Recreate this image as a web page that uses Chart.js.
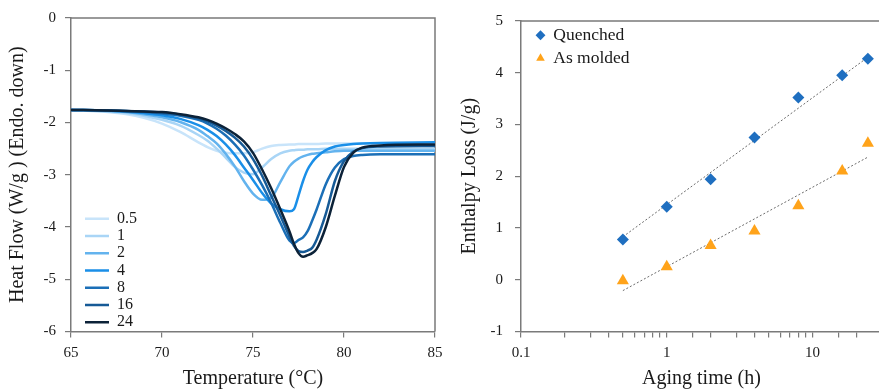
<!DOCTYPE html>
<html>
<head>
<meta charset="utf-8">
<script src="https://cdn.jsdelivr.net/npm/chart.js@4.4.1/dist/chart.umd.min.js"></script>
<style>
html, body { margin: 0; padding: 0; background: #fff; overflow: hidden; }
#wrap { position: relative; width: 879px; height: 389px; overflow: hidden; }
#dscChart { position: absolute; left: 0; top: 0; }
#lossChart { position: absolute; left: 440px; top: 0; }
</style>
</head>
<body>
<div id="wrap">
  <canvas id="dscChart" width="450" height="389"></canvas>
  <canvas id="lossChart" width="449" height="389"></canvas>
</div>
<script>
// left panel: DSC heat flow curves, one per aging time (h)
const temperature = [65, 67, 68, 69, 70, 71, 72, 72.5, 73, 73.5, 74, 74.5, 75, 75.5, 76, 76.5, 77, 77.25, 77.5, 77.75, 78, 78.25, 78.5, 79, 79.5, 80, 80.5, 81, 82, 85];
const agingLabels = ['0.5', '1', '2', '4', '8', '16', '24'];
const hf05 = [-1.76, -1.80, -1.84, -1.91, -2.02, -2.18, -2.38, -2.47, -2.54, -2.58, -2.59, -2.59, -2.57, -2.50, -2.45, -2.43, -2.42, -2.42, -2.41, -2.41, -2.41, -2.41, -2.41, -2.40, -2.40, -2.40, -2.40, -2.40, -2.40, -2.40];
const hf1 = [-1.76, -1.79, -1.82, -1.87, -1.95, -2.06, -2.24, -2.35, -2.50, -2.67, -2.85, -2.96, -2.99, -2.86, -2.70, -2.59, -2.54, -2.53, -2.52, -2.52, -2.51, -2.51, -2.51, -2.50, -2.50, -2.50, -2.50, -2.50, -2.50, -2.50];
const hf2 = [-1.76, -1.78, -1.80, -1.84, -1.90, -1.99, -2.14, -2.26, -2.40, -2.60, -2.84, -3.12, -3.36, -3.48, -3.44, -3.14, -2.84, -2.75, -2.69, -2.65, -2.62, -2.60, -2.59, -2.57, -2.55, -2.54, -2.54, -2.54, -2.54, -2.54];
const hf4 = [-1.76, -1.77, -1.79, -1.82, -1.86, -1.93, -2.05, -2.14, -2.26, -2.42, -2.62, -2.86, -3.10, -3.35, -3.55, -3.66, -3.70, -3.66, -3.40, -3.12, -2.90, -2.76, -2.66, -2.53, -2.46, -2.43, -2.41, -2.40, -2.39, -2.38];
const hf8 = [-1.76, -1.77, -1.78, -1.80, -1.83, -1.87, -1.95, -2.02, -2.12, -2.25, -2.42, -2.63, -2.90, -3.20, -3.54, -3.92, -4.26, -4.31, -4.25, -4.20, -4.08, -3.88, -3.66, -3.18, -2.86, -2.70, -2.64, -2.62, -2.61, -2.61];
const hf16 = [-1.76, -1.77, -1.78, -1.79, -1.81, -1.85, -1.92, -1.98, -2.06, -2.16, -2.29, -2.46, -2.70, -3.02, -3.40, -3.78, -4.18, -4.36, -4.46, -4.48, -4.45, -4.40, -4.24, -3.75, -3.12, -2.74, -2.56, -2.49, -2.46, -2.45];
const hf24 = [-1.76, -1.77, -1.78, -1.79, -1.80, -1.84, -1.90, -1.95, -2.02, -2.11, -2.22, -2.36, -2.58, -2.90, -3.26, -3.66, -4.08, -4.32, -4.50, -4.57, -4.54, -4.50, -4.42, -4.00, -3.40, -2.85, -2.58, -2.48, -2.44, -2.42];
const curveColors = ['#c8e4fa', '#a9d5f6', '#63b3ee', '#1a8fe8', '#1b6fb7', '#165a96', '#0c2238'];

// right panel: enthalpy loss vs aging time
const agingTime = [0.5, 1, 2, 4, 8, 16, 24];
const quenched = [0.78, 1.41, 1.94, 2.75, 3.52, 3.95, 4.27];
const asMolded = [-0.02, 0.25, 0.66, 0.94, 1.43, 2.10, 2.64];
const trendTime = [0.5, 24];
const quenchedTrend = [0.83, 4.30];
const moldedTrend = [-0.21, 2.37];

const axisColor = '#7a7a7a';
const textColor = '#1a1a1a';
Chart.defaults.font.family = '"Liberation Serif", "Times New Roman", serif';
Chart.defaults.color = textColor;
Chart.defaults.animation = false;

// top and right edges of the plot box
const frame = {
  id: 'frame',
  beforeDatasetsDraw(chart) {
    const {ctx, chartArea: a} = chart;
    ctx.save();
    ctx.strokeStyle = axisColor;
    ctx.lineWidth = 1.5;
    ctx.beginPath();
    ctx.moveTo(a.left, a.top);
    ctx.lineTo(a.right, a.top);
    ctx.lineTo(a.right, a.bottom);
    ctx.stroke();
    ctx.restore();
  }
};

// shift the in-plot legend a little
const nudgeLegend = {
  id: 'nudgeLegend',
  afterLayout(chart, args, opts) {
    const lg = chart.legend;
    if (!lg) return;
    lg.left += opts.dx || 0; lg.right += opts.dx || 0;
    lg.top += opts.dy || 0; lg.bottom += opts.dy || 0;
  }
};

function xy(xs, ys) {
  return xs.map((x, i) => ({x: x, y: ys[i]}));
}

const tickGrid = {drawOnChartArea: false, drawTicks: true, tickLength: 6, color: axisColor, lineWidth: 1.2};
const axisBorder = {color: axisColor, width: 1.5};

const curves = [hf05, hf1, hf2, hf4, hf8, hf16, hf24];

new Chart(document.getElementById('dscChart'), {
  type: 'line',
  data: {
    datasets: curves.map((c, i) => ({
      label: agingLabels[i],
      data: xy(temperature, c),
      borderColor: curveColors[i],
      backgroundColor: curveColors[i],
      borderWidth: 2.5,
      pointRadius: 0,
      cubicInterpolationMode: 'monotone',
      fill: false,
      order: curves.length - i
    }))
  },
  options: {
    responsive: false,
    layout: {padding: {top: 16, right: 15, bottom: 0, left: 0}},
    scales: {
      x: {
        type: 'linear', min: 65, max: 85,
        ticks: {stepSize: 5, padding: 7, font: {size: 15}, maxRotation: 0},
        grid: tickGrid, border: axisBorder,
        title: {display: true, text: 'Temperature (°C)', font: {size: 20, lineHeight: 1}, padding: {top: 0, bottom: 0}},
        afterFit(s) { s.height = 57.5; }
      },
      y: {
        min: -6, max: 0,
        ticks: {stepSize: 1, padding: 9, font: {size: 15}},
        grid: tickGrid, border: axisBorder,
        title: {display: true, text: 'Heat Flow (W/g ) (Endo. down)', font: {size: 20, lineHeight: 1}, padding: {top: 8, bottom: 0}},
        afterFit(s) { s.width = 71; }
      }
    },
    plugins: {
      legend: {
        position: 'chartArea',
        align: 'end',
        labels: {
          boxWidth: 24, boxHeight: 0, padding: 1.25,
          font: {size: 16}, color: textColor,
          sort: (a, b) => a.datasetIndex - b.datasetIndex
        }
      },
      tooltip: {enabled: false},
      nudgeLegend: {dx: 12.75, dy: 18}
    }
  },
  plugins: [frame, nudgeLegend]
});

new Chart(document.getElementById('lossChart'), {
  type: 'scatter',
  data: {
    datasets: [
      {
        label: 'Quenched',
        data: xy(agingTime, quenched),
        pointStyle: 'rectRot', pointRadius: 6, borderWidth: 0,
        backgroundColor: '#1f6fc0', borderColor: '#1f6fc0',
        order: 0
      },
      {
        label: 'As molded',
        data: xy(agingTime, asMolded),
        pointStyle: 'triangle', pointRadius: 7, borderWidth: 0,
        backgroundColor: '#ffa31a', borderColor: '#ffa31a',
        order: 0
      },
      {
        label: '',
        data: xy(trendTime, quenchedTrend),
        showLine: true, pointRadius: 0,
        borderColor: '#6b6b6b', borderWidth: 1, borderDash: [2, 2],
        order: 1
      },
      {
        label: '',
        data: xy(trendTime, moldedTrend),
        showLine: true, pointRadius: 0,
        borderColor: '#6b6b6b', borderWidth: 1, borderDash: [2, 2],
        order: 1
      }
    ]
  },
  options: {
    responsive: false,
    layout: {padding: {top: 16, right: 4, bottom: 0, left: 0}},
    scales: {
      x: {
        type: 'logarithmic', min: 0.1, max: 30,
        ticks: {
          autoSkip: false, maxRotation: 0, padding: 7, font: {size: 15},
          callback(v) {
            return [0.1, 1, 10].some(d => Math.abs(v - d) < 1e-9) ? String(v) : '';
          }
        },
        grid: tickGrid, border: axisBorder,
        title: {display: true, text: 'Aging time (h)', font: {size: 20, lineHeight: 1}, padding: {top: 0, bottom: 0}},
        afterFit(s) { s.height = 57.5; }
      },
      y: {
        min: -1, max: 5,
        ticks: {stepSize: 1, padding: 12, font: {size: 15}},
        grid: tickGrid, border: axisBorder,
        title: {display: true, text: 'Enthalpy Loss (J/g)', font: {size: 20, lineHeight: 1}, padding: {top: 20, bottom: 0}},
        afterFit(s) { s.width = 81; }
      }
    },
    plugins: {
      legend: {
        position: 'chartArea',
        align: 'start',
        labels: {
          usePointStyle: true, boxWidth: 8, boxHeight: 7, padding: 5.5,
          font: {size: 17.5}, color: textColor,
          filter: (item) => item.datasetIndex < 2
        }
      },
      tooltip: {enabled: false},
      nudgeLegend: {dx: 10, dy: 21}
    }
  },
  plugins: [frame, nudgeLegend]
});
</script>
</body>
</html>
